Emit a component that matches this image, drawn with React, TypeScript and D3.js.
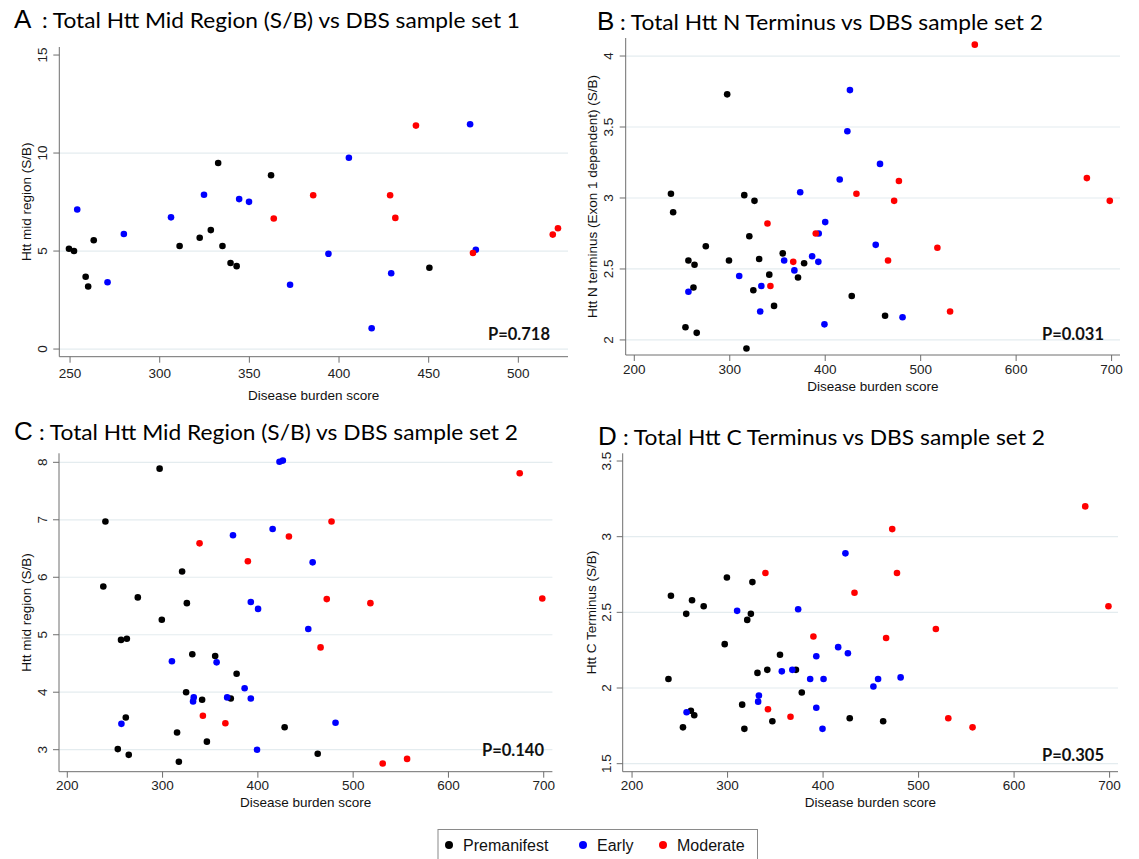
import React from 'react';
import * as d3 from 'd3';

// Panel A: Htt mid region, sample set 1
const premA: [number, number][] = [[249.4,5.12],[252.2,5.0],[258.7,3.69],[260.1,3.19],[263.2,5.55],[311.1,5.26],[322.3,5.68],[328.5,6.07],[332.6,9.49],[335.0,5.26],[339.5,4.39],[342.9,4.23],[362.1,8.87],[450.4,4.15]];
const earlyA: [number, number][] = [[254.0,7.12],[270.9,3.41],[280.0,5.87],[306.3,6.72],[324.7,7.87],[344.3,7.65],[349.8,7.51],[372.7,3.28],[394.1,4.86],[405.5,9.76],[418.2,1.06],[429.1,3.87],[473.1,11.47],[476.3,5.07]];
const modA: [number, number][] = [[363.6,6.66],[385.6,7.85],[428.5,7.85],[431.4,6.69],[442.9,11.40],[474.7,4.90],[519.2,5.84],[522.1,6.16]];

// Panel B: Htt N terminus, sample set 2
const premB: [number, number][] = [[238.4,3.03],[240.7,2.90],[256.7,2.56],[263.1,2.53],[262.0,2.37],[253.6,2.09],[265.4,2.05],[274.9,2.66],[297.3,3.73],[299.2,2.56],[315.2,3.02],[325.9,2.98],[320.5,2.73],[330.8,2.57],[324.7,2.35],[341.4,2.46],[346.4,2.24],[317.5,1.94],[355.5,2.61],[371.5,2.44],[377.9,2.54],[427.8,2.31],[462.7,2.17]];
const earlyB: [number, number][] = [[256.7,2.34],[309.9,2.45],[333.1,2.38],[331.9,2.20],[357.0,2.56],[367.7,2.49],[373.8,3.04],[386.3,2.59],[392.8,2.55],[393.2,2.75],[400.0,2.83],[399.2,2.11],[415.2,3.13],[423.2,3.47],[425.9,3.76],[452.9,2.67],[457.4,3.24],[481.0,2.16]];
const modB: [number, number][] = [[339.5,2.82],[342.6,2.38],[366.5,2.55],[390.1,2.75],[432.7,3.03],[465.8,2.56],[472.2,2.98],[477.2,3.12],[517.5,2.65],[530.8,2.20],[556.7,4.08],[674.1,3.14],[698.1,2.98]];

// Panel C: Htt mid region, sample set 2
const premC: [number, number][] = [[240.0,6.97],[237.8,5.84],[256.4,4.91],[262.5,4.93],[261.4,3.56],[253.0,3.01],[264.5,2.91],[274.0,5.65],[296.9,7.89],[299.2,5.26],[315.2,3.30],[317.1,2.79],[320.5,6.10],[325.5,5.55],[324.7,4.00],[331.2,4.66],[341.5,3.87],[346.5,3.14],[355.2,4.63],[371.6,3.89],[377.7,4.32],[428.1,3.39],[462.8,2.93]];
const earlyC: [number, number][] = [[256.8,3.45],[309.8,4.54],[332.0,3.84],[332.7,3.91],[356.7,4.52],[367.8,3.91],[373.9,6.73],[386.1,4.07],[392.6,5.57],[392.6,3.89],[400.2,5.45],[399.1,3.00],[415.5,6.84],[422.7,8.01],[426.2,8.03],[452.9,5.10],[457.5,6.26],[481.5,3.47]];
const modC: [number, number][] = [[338.8,6.59],[342.3,3.59],[365.9,3.46],[389.5,6.28],[432.6,6.71],[465.8,4.78],[472.3,5.62],[477.3,6.97],[518.1,5.55],[531.0,2.76],[556.6,2.84],[674.8,7.81],[698.5,5.63]];

// Panel D: Htt C terminus, sample set 2
const premD: [number, number][] = [[240.7,2.61],[238.1,2.06],[256.7,2.49],[262.8,2.58],[275.0,2.54],[261.6,1.85],[265.1,1.82],[253.3,1.74],[297.0,2.29],[299.3,2.73],[320.6,2.45],[324.4,2.49],[326.0,2.70],[315.3,1.89],[317.6,1.73],[331.3,2.10],[341.6,2.12],[346.9,1.78],[354.9,2.22],[371.6,2.12],[377.7,1.97],[427.9,1.80],[462.9,1.78]];
const earlyD: [number, number][] = [[257.1,1.84],[310.0,2.51],[332.8,1.95],[332.0,1.91],[356.8,2.11],[367.8,2.12],[373.9,2.52],[386.5,2.06],[392.9,2.21],[392.9,1.87],[400.5,2.06],[399.4,1.73],[415.8,2.27],[423.4,2.89],[426.0,2.23],[452.7,2.01],[457.6,2.06],[481.2,2.07]];
const modD: [number, number][] = [[339.6,2.76],[342.3,1.86],[365.9,1.81],[389.9,2.34],[432.9,2.63],[466.0,2.33],[472.4,3.05],[477.4,2.76],[518.1,2.39],[531.1,1.80],[556.5,1.74],[674.5,3.20],[698.8,2.54]];

const xTicksA = [250, 300, 350, 400, 450, 500];
const xTicksSet2 = [200, 300, 400, 500, 600, 700];
const yTicksA = [0, 5, 10, 15];
const yTicksB = [2, 2.5, 3, 3.5, 4];
const yTicksC = [3, 4, 5, 6, 7, 8];
const yTicksD = [1.5, 2, 2.5, 3, 3.5];

const groups = ['Premanifest', 'Early', 'Moderate'];
const colors = ['#000000', '#0000ff', '#ff0000'];

const SANS = '"Liberation Sans", Arial, sans-serif';
const TITLE = 'Lato, "Open Sans", sans-serif';

type Panel = {
  letter: string;
  title: string;
  yLabel: string;
  pValue: string;
  series: [number, number][][];
  xTicks: number[];
  yTicks: number[];
  noGrid: number[];
  xDomain: [number, number];
  yDomain: [number, number];
  frame: { l: number; r: number; t: number; b: number };
  letterX: number;
  restX: number;
  titleEnd: number;
  titleY: number;
  yTickX: number;
  yLabelX: number;
  xTickDy: number;
  xTitleY: number;
  pX: number;
  pY: number;
};

const panels: Panel[] = [
  {
    letter: 'A', title: ': Total Htt Mid Region (S/B) vs DBS sample set 1', yLabel: 'Htt mid region (S/B)', pValue: 'P=0.718',
    series: [premA, earlyA, modA], xTicks: xTicksA, yTicks: yTicksA, noGrid: [15],
    xDomain: [244.0, 527.7], yDomain: [-0.39, 15.41], frame: { l: 59.3, r: 568, t: 47, b: 356.7 },
    letterX: 14, restX: 42, titleEnd: 520, titleY: 28, yTickX: 42, yLabelX: 26, xTickDy: 17, xTitleY: 395, pX: 550, pY: 340,
  },
  {
    letter: 'B', title: ': Total Htt N Terminus vs DBS sample set 2', yLabel: 'Htt N terminus (Exon 1 dependent) (S/B)', pValue: 'P=0.031',
    series: [premB, earlyB, modB], xTicks: xTicksSet2, yTicks: yTicksB, noGrid: [],
    xDomain: [191.0, 708.8], yDomain: [1.894, 4.127], frame: { l: 625.7, r: 1120, t: 38, b: 355 },
    letterX: 597, restX: 620, titleEnd: 1043, titleY: 29.5, yTickX: 608, yLabelX: 592.5, xTickDy: 14, xTitleY: 386, pX: 1104, pY: 340,
  },
  {
    letter: 'C', title: ': Total Htt Mid Region (S/B) vs DBS sample set 2', yLabel: 'Htt mid region (S/B)', pValue: 'P=0.140',
    series: [premC, earlyC, modC], xTicks: xTicksSet2, yTicks: yTicksC, noGrid: [],
    xDomain: [191.3, 709.1], yDomain: [2.617, 8.157], frame: { l: 59, r: 552.4, t: 453.3, b: 771.7 },
    letterX: 14, restX: 39, titleEnd: 518, titleY: 439.5, yTickX: 42.5, yLabelX: 26, xTickDy: 14, xTitleY: 802, pX: 544, pY: 756,
  },
  {
    letter: 'D', title: ': Total Htt C Terminus vs DBS sample set 2', yLabel: 'Htt C Terminus (S/B)', pValue: 'P=0.305',
    series: [premD, earlyD, modD], xTicks: xTicksSet2, yTicks: yTicksD, noGrid: [3.5],
    xDomain: [190.2, 708.8], yDomain: [1.447, 3.551], frame: { l: 622.7, r: 1118, t: 453.3, b: 771.7 },
    letterX: 598, restX: 623, titleEnd: 1045, titleY: 445, yTickX: 606, yLabelX: 591, xTickDy: 14, xTitleY: 802, pX: 1104, pY: 761,
  },
];

const ScatterPanel = ({ p }: { p: Panel }) => {
  const { l, r, t, b } = p.frame;
  const x = d3.scaleLinear().domain(p.xDomain).range([l, r]);
  const y = d3.scaleLinear().domain(p.yDomain).range([b, t]);
  const yMid = (t + b) / 2;

  return (
    <g>
      {/* title: big letter then the rest */}
      <text x={p.letterX} y={p.titleY} fontFamily={SANS} fontSize={26} fill="#000">{p.letter}</text>
      <text x={p.restX} y={p.titleY} fontFamily={TITLE} fontSize={22} fill="#000"
        textLength={p.titleEnd - p.restX} lengthAdjust="spacingAndGlyphs">{p.title}</text>

      {/* grid lines */}
      {p.yTicks.filter(v => !p.noGrid.includes(v)).map(v => (
        <line key={'g' + v} x1={l} x2={r} y1={y(v)} y2={y(v)} stroke="#e4ecef" strokeWidth={1.2} />
      ))}

      {/* axes */}
      <line x1={l} x2={l} y1={t} y2={b} stroke="#6e6e6e" strokeWidth={1} />
      <line x1={l} x2={r} y1={b} y2={b} stroke="#6e6e6e" strokeWidth={1} />

      {p.yTicks.map(v => (
        <g key={'y' + v}>
          <line x1={l - 6} x2={l} y1={y(v)} y2={y(v)} stroke="#6e6e6e" />
          <text transform={`translate(${p.yTickX},${y(v)}) rotate(-90)`} textAnchor="middle" dominantBaseline="central"
            fontFamily={SANS} fontSize={13.5} fill="#222">{v}</text>
        </g>
      ))}
      {p.xTicks.map(v => (
        <g key={'x' + v}>
          <line x1={x(v)} x2={x(v)} y1={b} y2={b + 6} stroke="#6e6e6e" />
          <text x={x(v)} y={b + p.xTickDy} textAnchor="middle" dominantBaseline="central"
            fontFamily={SANS} fontSize={13.5} fill="#222">{v}</text>
        </g>
      ))}

      <text transform={`translate(${p.yLabelX},${yMid}) rotate(-90)`} textAnchor="middle" dominantBaseline="central"
        fontFamily={SANS} fontSize={13.5} fill="#111">{p.yLabel}</text>
      <text x={(l + r) / 2} y={p.xTitleY} textAnchor="middle" dominantBaseline="central"
        fontFamily={SANS} fontSize={13.5} fill="#111">Disease burden score</text>

      {/* points */}
      {p.series.map((pts, gi) => pts.map((d, i) => (
        <circle key={gi + '-' + i} cx={x(d[0])} cy={y(d[1])} r={3.3} fill={colors[gi]} />
      )))}

      <text x={p.pX} y={p.pY} textAnchor="end" fontFamily={TITLE} fontWeight="bold" fontSize={16.5} fill="#111">{p.pValue}</text>
    </g>
  );
};

const legendDotX = [449, 583, 663];

const App = () => {
  return (
    <div style={{ position: 'absolute', left: 0, top: 0 }}>
      <svg width={1139} height={859} style={{ display: 'block', background: '#fff' }}>
        {panels.map(p => <ScatterPanel key={p.letter} p={p} />)}

        {/* legend */}
        <rect x={438} y={829.5} width={319.5} height={40} fill="#fff" stroke="#8a8a8a" strokeWidth={1} />
        {groups.map((g, i) => (
          <g key={g}>
            <circle cx={legendDotX[i]} cy={845} r={4} fill={colors[i]} />
            <text x={legendDotX[i] + 14} y={845} dominantBaseline="central" fontFamily={SANS} fontSize={16} fill="#111">{g}</text>
          </g>
        ))}
      </svg>
    </div>
  );
};

export default App;
